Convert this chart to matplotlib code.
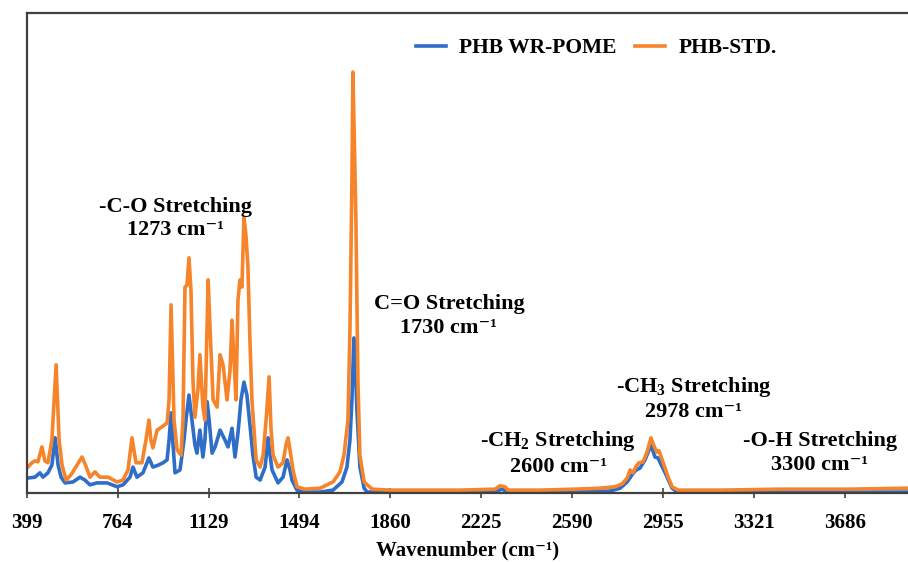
import matplotlib
matplotlib.use("Agg")
import matplotlib.pyplot as plt

# --- FTIR spectra (wavenumber cm-1, absorbance a.u.) ---
wn_std = [399, 419, 431, 443, 459, 471, 483, 499, 516, 528, 540, 556, 576, 600, 620,
          636, 652, 672, 692, 725, 761, 785, 805, 821, 837, 861, 877, 889, 897, 905,
          922, 942, 962, 970, 978, 990, 1002, 1018, 1026, 1034, 1042, 1050, 1058, 1066,
          1074, 1086, 1094, 1106, 1114, 1127, 1135, 1147, 1163, 1175, 1187, 1203, 1215,
          1223, 1231, 1239, 1247, 1255, 1263, 1271, 1279, 1287, 1295, 1303, 1320, 1336,
          1348, 1360, 1372, 1380, 1388, 1408, 1428, 1440, 1448, 1456, 1468, 1484, 1516,
          1577, 1629, 1657, 1673, 1689, 1697, 1705, 1709, 1721, 1729, 1737, 1754, 1786,
          1858, 1979, 2140, 2280, 2300, 2320, 2332, 2461, 2602, 2702, 2763, 2791, 2811,
          2823, 2835, 2847, 2859, 2875, 2891, 2907, 2919, 2931, 2939, 2956, 2976, 2992,
          3016, 3185, 3426, 3707, 3940]
abs_std = [0.052, 0.063, 0.067, 0.065, 0.096, 0.067, 0.063, 0.110, 0.267, 0.110, 0.058,
           0.027, 0.038, 0.058, 0.075, 0.056, 0.033, 0.044, 0.033, 0.033, 0.023, 0.027,
           0.048, 0.115, 0.063, 0.063, 0.110, 0.152, 0.110, 0.094, 0.131, 0.138, 0.146,
           0.194, 0.392, 0.152, 0.090, 0.079, 0.152, 0.429, 0.433, 0.490, 0.423, 0.235,
           0.158, 0.215, 0.288, 0.179, 0.152, 0.444, 0.340, 0.194, 0.179, 0.288, 0.267,
           0.194, 0.256, 0.360, 0.277, 0.194, 0.402, 0.444, 0.429, 0.575, 0.537, 0.471,
           0.319, 0.194, 0.069, 0.054, 0.079, 0.152, 0.242, 0.131, 0.079, 0.054, 0.063,
           0.100, 0.115, 0.090, 0.048, 0.013, 0.008, 0.010, 0.023, 0.044, 0.079, 0.152,
           0.340, 0.652, 0.877, 0.569, 0.235, 0.079, 0.023, 0.008, 0.006, 0.006, 0.006,
           0.008, 0.015, 0.013, 0.006, 0.006, 0.008, 0.010, 0.013, 0.019, 0.031, 0.048,
           0.042, 0.056, 0.063, 0.065, 0.085, 0.115, 0.098, 0.085, 0.088, 0.063, 0.033,
           0.013, 0.006, 0.006, 0.008, 0.008, 0.010]

wn_pome = [399, 431, 451, 463, 483, 499, 512, 524, 536, 552, 584, 612, 632, 652, 680,
           721, 761, 785, 813, 825, 841, 865, 889, 905, 926, 946, 962, 970, 978, 986,
           994, 1014, 1030, 1038, 1050, 1062, 1074, 1082, 1094, 1106, 1114, 1123, 1131,
           1143, 1155, 1175, 1195, 1207, 1223, 1235, 1247, 1259, 1271, 1283, 1295, 1307,
           1320, 1336, 1356, 1368, 1376, 1384, 1408, 1428, 1444, 1456, 1464, 1484, 1508,
           1577, 1629, 1665, 1685, 1697, 1705, 1713, 1721, 1725, 1737, 1754, 1766, 1979,
           2280, 2308, 2332, 2541, 2742, 2783, 2811, 2831, 2847, 2863, 2883, 2907, 2923,
           2935, 2964, 2992, 3012, 3940]
abs_pome = [0.031, 0.033, 0.042, 0.033, 0.042, 0.058, 0.115, 0.058, 0.033, 0.021, 0.023,
            0.033, 0.027, 0.017, 0.021, 0.021, 0.013, 0.017, 0.033, 0.054, 0.033, 0.042,
            0.073, 0.054, 0.058, 0.063, 0.069, 0.110, 0.167, 0.100, 0.042, 0.048, 0.110,
            0.152, 0.204, 0.152, 0.100, 0.083, 0.131, 0.075, 0.110, 0.190, 0.152, 0.083,
            0.096, 0.131, 0.110, 0.096, 0.135, 0.075, 0.125, 0.194, 0.231, 0.204, 0.142,
            0.079, 0.033, 0.027, 0.054, 0.115, 0.079, 0.048, 0.021, 0.033, 0.069, 0.048,
            0.027, 0.006, 0.002, 0.002, 0.006, 0.023, 0.054, 0.110, 0.194, 0.323, 0.235,
            0.173, 0.054, 0.010, 0.002, 0.002, 0.002, 0.008, 0.002, 0.002, 0.004, 0.010,
            0.023, 0.038, 0.048, 0.052, 0.069, 0.100, 0.075, 0.073, 0.042, 0.010, 0.002,
            0.002]

xticks = [399, 764, 1129, 1494, 1860, 2225, 2590, 2955, 3321, 3686]

# annotations: (text, axes-x, axes-y)
notes = [
    ("-C-O Stretching\n1273 cm\u207b\u00b9", 0.168, 0.572),
    ("C=O Stretching\n1730 cm\u207b\u00b9", 0.479, 0.368),
    ("-CH$_{\\mathbf{2}}$ Stretching\n2600 cm\u207b\u00b9", 0.603, 0.083),
    ("-CH$_{\\mathbf{3}}$ Stretching\n2978 cm\u207b\u00b9", 0.757, 0.197),
    ("-O-H Stretching\n3300 cm\u207b\u00b9", 0.900, 0.083),
]

plt.rcParams['font.family'] = ['Liberation Serif', 'DejaVu Serif']
plt.rcParams['font.weight'] = 'bold'
plt.rcParams['mathtext.fontset'] = 'custom'
plt.rcParams['mathtext.rm'] = 'Liberation Serif:bold'
plt.rcParams['mathtext.bf'] = 'Liberation Serif:bold'
plt.rcParams['mathtext.it'] = 'Liberation Serif:bold'

fig = plt.figure(figsize=(9.08, 5.62), dpi=100)
ax = fig.add_axes([27 / 908, 69 / 562, 881 / 908, 480 / 562])

ax.plot(wn_pome, abs_pome, color='#2E6DC8', lw=2.6, label='PHB WR-POME', solid_joinstyle='round')
ax.plot(wn_std, abs_std, color='#F5842B', lw=2.6, label='PHB-STD.', solid_joinstyle='round')

ax.set_xlim(399, 3940)
ax.set_ylim(0, 1.0)
ax.set_xticks(xticks)
ax.set_xticklabels([str(t) for t in xticks], fontsize=15, fontweight='bold')
ax.set_yticks([])
ax.tick_params(axis='x', direction='inout', length=7, width=1.2, color='#404040', pad=11)
for s in ['left', 'top', 'bottom']:
    ax.spines[s].set_color('#404040')
    ax.spines[s].set_linewidth(1.6)
ax.spines['right'].set_visible(False)

ax.set_xlabel('Wavenumber (cm\u207b\u00b9)', fontsize=15, fontweight='bold', labelpad=5)

for txt, x, y in notes:
    ax.text(x, y, txt, transform=ax.transAxes, ha='center', va='center',
            fontsize=16, fontweight='bold', linespacing=1.25)

ax.legend(loc='center', bbox_to_anchor=(0.646, 0.927), ncol=2, frameon=False,
          fontsize=15.5, handlelength=1.4, columnspacing=0.9, handletextpad=0.6)

fig.savefig('out.png', dpi=100)
